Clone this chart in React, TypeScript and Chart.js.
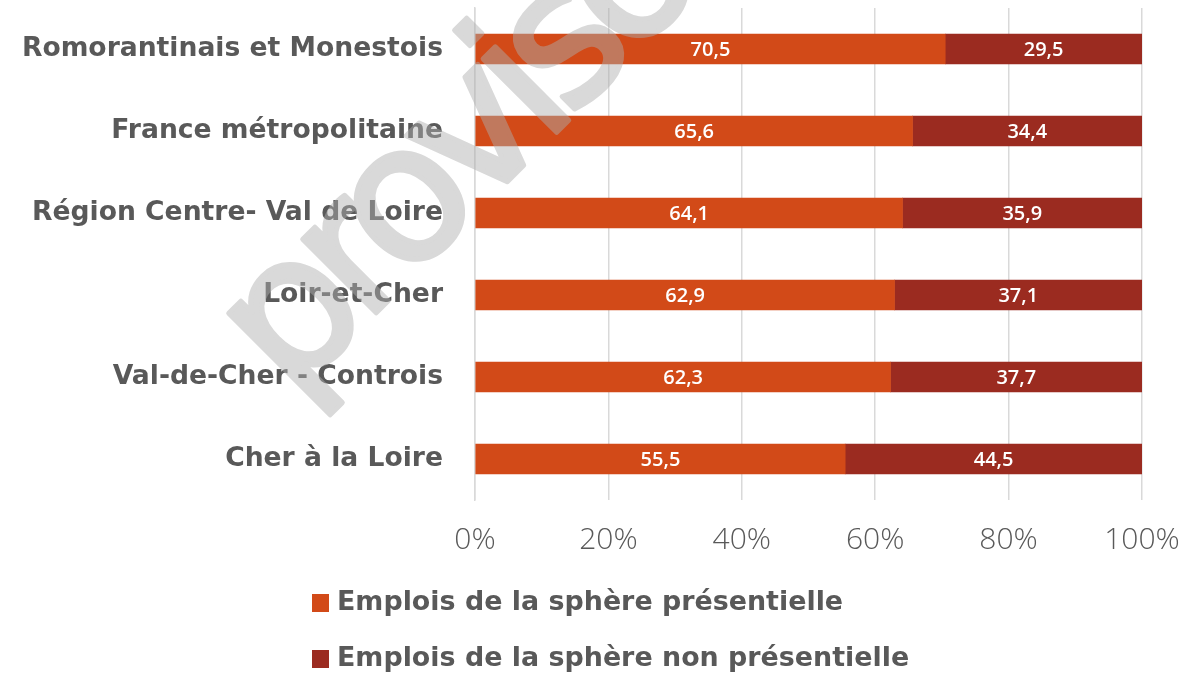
import React, { useEffect, useRef } from "react";
import { Chart, registerables } from "chart.js";

Chart.register(...registerables);

const categories = [
  "Romorantinais et Monestois",
  "France métropolitaine",
  "Région Centre- Val de Loire",
  "Loir-et-Cher",
  "Val-de-Cher - Controis",
  "Cher à la Loire",
];
const presentielle = [70.5, 65.6, 64.1, 62.9, 62.3, 55.5];
const nonPresentielle = [29.5, 34.4, 35.9, 37.1, 37.7, 44.5];
const seriesNames = [
  "Emplois de la sphère présentielle",
  "Emplois de la sphère non présentielle",
];
const seriesColors = ["#D24A18", "#9B2B20"];
const tickValues = [0, 20, 40, 60, 80, 100];
const watermarkText = "provisoire";

const TEXT = "#595959";
const FONT = "'Open Sans', 'DejaVu Sans', sans-serif";
const WIDE = "'DejaVu Sans', sans-serif";

const labelsPlugin = {
  id: "segLabels",
  afterDatasetsDraw(chart: any) {
    const ctx = chart.ctx;
    ctx.save();
    ctx.fillStyle = "#ffffff";
    ctx.font = `600 20px ${FONT}`;
    ctx.textAlign = "center";
    ctx.textBaseline = "middle";
    chart.data.datasets.forEach((ds: any, di: number) => {
      const meta = chart.getDatasetMeta(di);
      meta.data.forEach((el: any, i: number) => {
        const p = el.getProps(["x", "y", "base"], true);
        const v = ds.data[i];
        ctx.fillText(v.toFixed(1).replace(".", ","), (p.x + p.base) / 2, p.y + 1);
      });
    });
    ctx.restore();
  },
};

const legendPlugin = {
  id: "customLegend",
  afterDraw(chart: any) {
    const ctx = chart.ctx;
    ctx.save();
    ctx.font = `bold 26.9px ${WIDE}`;
    ctx.textBaseline = "middle";
    ctx.textAlign = "left";
    const ys = [603, 659];
    chart.data.datasets.forEach((ds: any, i: number) => {
      const y = ys[i];
      ctx.fillStyle = ds.backgroundColor;
      ctx.fillRect(312, y - 9, 17, 18);
      ctx.fillStyle = TEXT;
      ctx.fillText(ds.label, 337, y);
    });
    ctx.restore();
  },
};

const watermarkPlugin = {
  id: "watermark",
  afterDraw(chart: any) {
    const ctx = chart.ctx;
    const off = document.createElement("canvas");
    off.width = chart.width;
    off.height = chart.height;
    const o = off.getContext("2d") as any;
    o.translate(290, 399);
    o.rotate((-45 * Math.PI) / 180);
    o.font = `190px 'DejaVu Sans', sans-serif`;
    o.letterSpacing = "-16px";
    o.fillStyle = "rgb(174,174,174)";
    o.strokeStyle = "rgb(174,174,174)";
    o.lineWidth = 5;
    o.lineJoin = "round";
    o.textAlign = "left";
    o.textBaseline = "alphabetic";
    o.fillText(watermarkText, 0, 0);
    o.strokeText(watermarkText, 0, 0);
    ctx.save();
    ctx.globalAlpha = 0.47;
    ctx.drawImage(off, 0, 0, chart.width, chart.height);
    ctx.restore();
  },
};

export default function App() {
  const ref = useRef<HTMLCanvasElement>(null);
  useEffect(() => {
    const chart = new Chart(ref.current as HTMLCanvasElement, {
      type: "bar",
      data: {
        labels: categories,
        datasets: [
          { label: seriesNames[0], data: presentielle, backgroundColor: seriesColors[0], barThickness: 30 },
          { label: seriesNames[1], data: nonPresentielle, backgroundColor: seriesColors[1], barThickness: 30 },
        ],
      },
      options: {
        indexAxis: "y",
        animation: false,
        responsive: true,
        maintainAspectRatio: false,
        layout: { padding: { top: 8, right: 44, left: 0, bottom: 0 } },
        plugins: { legend: { display: false }, tooltip: { enabled: false } },
        scales: {
          x: {
            stacked: true,
            min: 0,
            max: 100,
            afterBuildTicks: (scale: any) => {
              scale.ticks = tickValues.map((v) => ({ value: v }));
            },
            afterFit: (scale: any) => {
              scale.height = 175;
              scale.paddingLeft = 0;
              scale.paddingRight = 0;
              scale.paddingTop = 0;
              scale.paddingBottom = 0;
            },
            ticks: {
              color: TEXT,
              font: { family: FONT, size: 30, weight: "300" },
              padding: 22,
              callback: (v: any) => `${v}%`,
            },
            grid: { color: "#d9d9d9", lineWidth: 1.5, drawTicks: false },
            border: { display: false },
          },
          y: {
            stacked: true,
            afterFit: (scale: any) => {
              scale.width = 475;
              scale.paddingLeft = 0;
              scale.paddingRight = 0;
              scale.paddingTop = 0;
              scale.paddingBottom = 0;
            },
            ticks: {
              color: TEXT,
              font: { family: WIDE, size: 26.6, weight: "bold" },
              padding: 32,
            },
            grid: { display: false, drawTicks: false },
            border: { display: true, color: "#d9d9d9", width: 1.5 },
          },
        },
      },
      plugins: [labelsPlugin, legendPlugin, watermarkPlugin],
    });
    return () => chart.destroy();
  }, []);
  return (
    <div style={{ position: "fixed", left: 0, top: 0, width: 1186, height: 675, background: "#fff" }}>
      <canvas ref={ref} />
    </div>
  );
}
